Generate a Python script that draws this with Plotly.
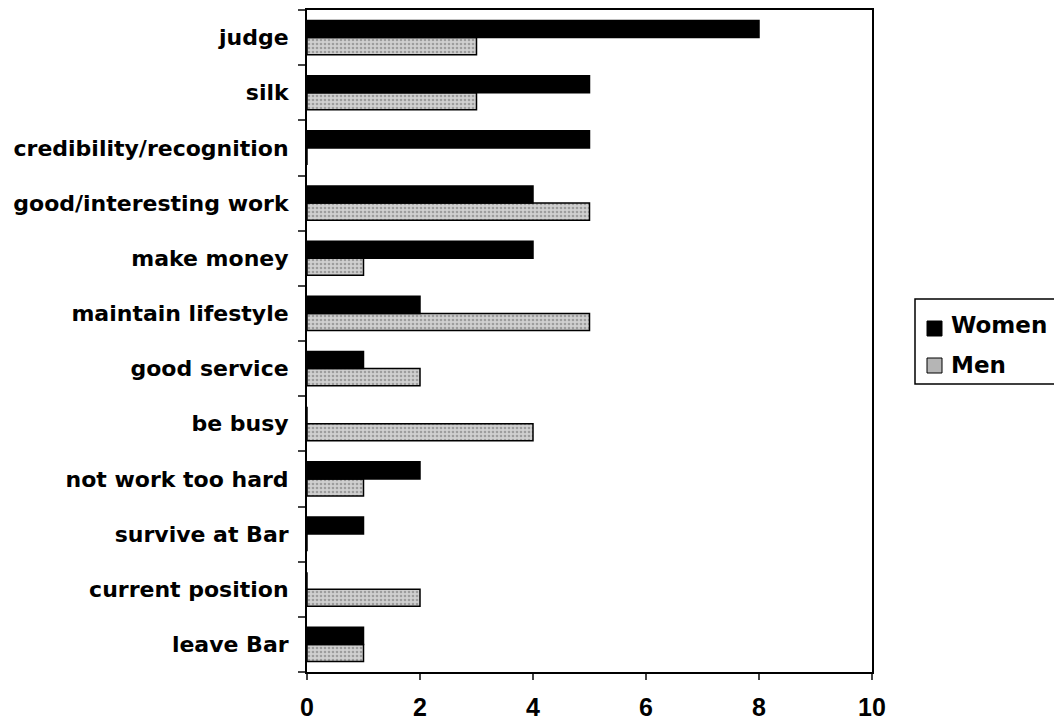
import plotly.graph_objects as go

categories = ["judge", "silk", "credibility/recognition", "good/interesting work",
              "make money", "maintain lifestyle", "good service", "be busy",
              "not work too hard", "survive at Bar", "current position", "leave Bar"]
women = [8, 5, 5, 4, 4, 2, 1, 0, 2, 1, 0, 1]
men = [3, 3, 0, 5, 1, 5, 2, 4, 1, 0, 2, 1]
x_ticks = [0, 2, 4, 6, 8, 10]

LABEL_FONT = "DejaVu Sans, Verdana, sans-serif"
NUM_FONT = "Liberation Sans, Arial, sans-serif"

W, H = 1054, 724
ML, MR, MT, MB = 307, 182, 10, 52
PW, PH = W - ML - MR, H - MT - MB


def px(x):
    """Page x pixel -> paper coordinate."""
    return (x - ML) / PW


def py(y):
    """Page y pixel (from top) -> paper coordinate."""
    return (H - MB - y) / PH


MEN_FILL = "#c4c4c4"

fig = go.Figure()
# Listed bottom-to-top so the first category sits at the top of the axis
fig.add_trace(go.Bar(
    y=categories[::-1], x=men[::-1], orientation="h", name="Men",
    marker=dict(color=MEN_FILL, line=dict(color="black", width=1.5),
                pattern=dict(shape=".", fgcolor="#6a6a6a", bgcolor="#d0d0d0",
                             size=4, solidity=0.35)),
))
fig.add_trace(go.Bar(
    y=categories[::-1], x=women[::-1], orientation="h", name="Women",
    marker=dict(color="black", line=dict(color="black", width=1.5)),
))

# Legend drawn as a framed key to the right of the plot
legend_shapes = [
    dict(type="rect", xref="paper", yref="paper",
         x0=px(915), x1=px(1070), y0=py(384), y1=py(299),
         line=dict(color="black", width=1.5), fillcolor="white", layer="above"),
    dict(type="rect", xref="paper", yref="paper",
         x0=px(927), x1=px(942), y0=py(336), y1=py(321),
         line=dict(color="black", width=1), fillcolor="black"),
    dict(type="rect", xref="paper", yref="paper",
         x0=px(927), x1=px(942), y0=py(373), y1=py(358),
         line=dict(color="black", width=1), fillcolor="#b5b5b5"),
]
legend_labels = [
    dict(text="Women", x=px(949), y=py(325)),
    dict(text="Men", x=px(949), y=py(365)),
]

fig.update_layout(
    width=W, height=H,
    margin=dict(l=ML, r=MR, t=MT, b=MB),
    barmode="group", bargap=0.38, bargroupgap=0,
    plot_bgcolor="white", paper_bgcolor="white",
    font=dict(family=LABEL_FONT, size=20, color="black"),
    showlegend=False,
    shapes=legend_shapes,
    annotations=[
        dict(text=l["text"], x=l["x"], y=l["y"], xref="paper", yref="paper",
             xanchor="left", yanchor="middle", showarrow=False,
             font=dict(family=LABEL_FONT, size=23, color="black", weight="bold"))
        for l in legend_labels
    ],
)
fig.update_xaxes(
    range=[0, 10], tickvals=x_ticks, ticks="outside", ticklen=6, tickwidth=2,
    showline=True, linecolor="black", linewidth=2, mirror=True, showgrid=False,
    zeroline=False, ticklabelstandoff=6, automargin=False,
    tickfont=dict(family=NUM_FONT, size=25, color="black", weight="bold"),
)
fig.update_yaxes(
    ticks="outside", ticklen=7, tickwidth=2, tickson="boundaries",
    showline=True, linecolor="black", linewidth=2, mirror=True, showgrid=False,
    ticklabelstandoff=12, automargin=False,
    tickfont=dict(family=LABEL_FONT, size=22, color="black", weight="bold"),
)

fig.write_html("out.html")
